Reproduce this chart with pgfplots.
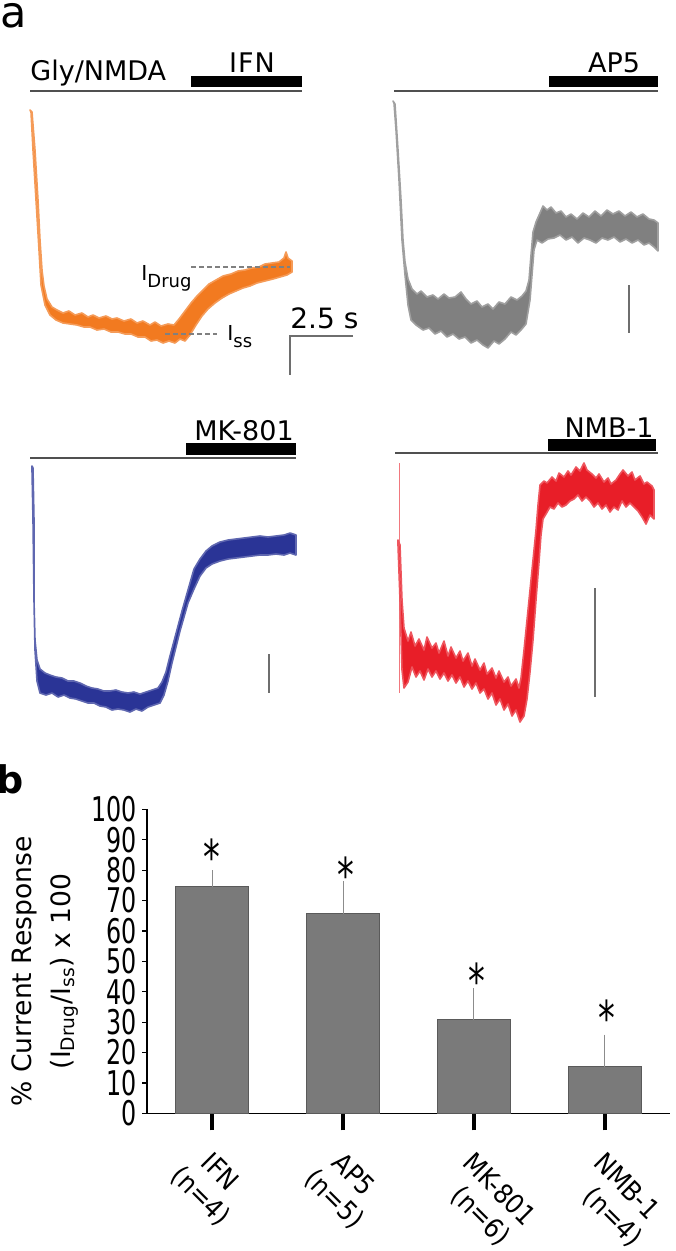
\documentclass[border=0pt]{standalone}
\usepackage{pgfplots}
\pgfplotsset{compat=1.18}
\usepackage{fontspec}
\setmainfont{DejaVu Sans}
\newfontfamily\condfont{DejaVu Sans}[FakeStretch=0.70]
\newfontfamily\labfont{DejaVu Sans}[FakeStretch=0.90]

\definecolor{tOrange}{RGB}{242,122,32}
\definecolor{tGray}{RGB}{128,128,128}
\definecolor{tBlue}{RGB}{42,52,150}
\definecolor{tRed}{RGB}{232,30,40}
\definecolor{barFill}{RGB}{122,122,122}
\definecolor{barEdge}{RGB}{90,90,90}
\definecolor{errGray}{RGB}{140,140,140}
\definecolor{stimLine}{RGB}{80,80,80}
\definecolor{scaleGray}{RGB}{110,110,110}

\newcommand{\txt}{\fontsize{13.5}{16}\selectfont}
\pgfplotsset{trace/.style={fill=#1, draw=#1!75, line width=0.8pt, line join=round}}
\tikzset{catlab/.style={rotate=-45, inner sep=0pt, font=\labfont\fontsize{13.5}{16}\selectfont}}

\begin{document}
\begin{tikzpicture}
\path[use as bounding box] (0,0) rectangle (337.5pt,-625.5pt);

% ---------- panel a: traces, in pixel units ----------
\begin{axis}[at={(0pt,0pt)}, anchor=north west, scale only axis,
  width=337.5pt, height=380pt, xmin=0, xmax=675, ymin=0, ymax=760,
  y dir=reverse, hide axis, clip=false, no markers]

\node[anchor=north west, inner sep=0pt, font=\fontsize{21.5}{22}\selectfont] at (axis cs:0.5,3) {a};

% stimulus lines and drug bars
\addplot[stimLine, line width=0.6pt] coordinates {(30,91)(302,91)};
\addplot[black, line width=5.5pt] coordinates {(191,81.5)(302,81.5)};
\addplot[stimLine, line width=0.6pt] coordinates {(394,91)(658,91)};
\addplot[black, line width=5.5pt] coordinates {(549,81.5)(658,81.5)};
\addplot[stimLine, line width=0.6pt] coordinates {(30,458)(296,458)};
\addplot[black, line width=6pt] coordinates {(186,449)(296,449)};
\addplot[stimLine, line width=0.6pt] coordinates {(395,453)(658,453)};
\addplot[black, line width=6pt] coordinates {(548,445)(656,445)};

\node[anchor=base west, inner sep=0pt, font=\txt] at (axis cs:30,80) {Gly/NMDA};
\node[anchor=base, inner sep=0pt, font=\txt] at (axis cs:252,72) {I\kern0.5pt F\kern0.5pt N};
\node[anchor=base, inner sep=0pt, font=\txt] at (axis cs:614,72) {AP5};
\node[anchor=base, inner sep=0pt, font=\txt] at (axis cs:244,440) {MK-801};
\node[anchor=base, inner sep=0pt, font=\txt] at (axis cs:609,437) {NMB-1};

% IFN trace
\addplot[trace=tOrange] coordinates {
(30,110)(32,112)(35,150)(38,200)(40,240)(42,270)(44,286)(47,299)(52,307)(57,310)
(63,313)(69,311)(75,315)(82,313)(88,317)(93,315)(99,318)(106,316)(112,319)(117,318)
(124,321)(131,319)(137,323)(143,321)(150,325)(155,322)(161,326)(168,324)(174,325)(179,319)
(185,311)(191,303)(197,296)(203,290)(209,284)(216,280)(223,276)(231,274)(238,271)(245,270)
(252,268)(259,267)(265,264)(272,263)(279,262)(284,258)(286,252)(288,258)(292,261)
(292,272)(287,275)(280,277)(273,279)(265,281)(257,283)(250,286)(243,288)(236,291)(229,294)
(222,298)(215,303)(208,309)(202,316)(196,325)(190,335)(185,341)(180,339)(175,343)(169,341)
(163,343)(157,340)(151,341)(145,337)(138,337)(131,334)(125,334)(118,332)(111,332)(104,329)
(97,330)(90,327)(84,327)(77,325)(70,324)(63,323)(56,320)(50,315)(45,305)(41,285)
(39,250)(36,200)(33,150)(31,112)} -- cycle;

\addplot[gray, line width=0.7pt, dash pattern=on 2.5pt off 1.5pt] coordinates {(191,267)(290,267)};
\addplot[gray, line width=0.7pt, dash pattern=on 2.5pt off 1.5pt] coordinates {(165,334)(217,334)};
\node[anchor=base west, inner sep=0pt, font=\fontsize{10.3}{12}\selectfont] at (axis cs:141,280)
  {I\raisebox{-0.38em}{\fontsize{9}{10}\selectfont Drug}};
\node[anchor=base west, inner sep=0pt, font=\fontsize{10.3}{12}\selectfont] at (axis cs:227,340)
  {I\raisebox{-0.38em}{\fontsize{9}{10}\selectfont ss}};
\node[anchor=base west, inner sep=0pt, font=\fontsize{14}{16}\selectfont] at (axis cs:290,328) {2.5 s};
\addplot[scaleGray, line width=0.6pt] coordinates {(353,336)(290,336)(290,375)};

% AP5 trace
\addplot[trace=tGray] coordinates {
(393,101)(395,104)(398,150)(401,200)(403,240)(405,262)(408,279)(412,289)(417,294)(421,291)
(427,297)(433,295)(438,299)(444,294)(449,298)(455,297)(461,292)(466,299)(471,304)(477,301)
(482,307)(488,304)(493,309)(499,302)(505,304)(511,297)(517,300)(522,296)(526,291)(529,280)
(531,255)(533,232)(536,222)(540,213)(543,206)(547,210)(551,207)(556,213)(561,211)(566,217)
(571,214)(577,219)(583,213)(589,217)(595,211)(601,216)(607,210)(613,214)(619,211)(625,216)
(631,212)(637,217)(643,214)(649,219)(654,220)(658,223)
(658,251)(654,247)(649,243)(644,245)(638,240)(632,243)(626,239)(620,242)(614,237)(608,240)
(602,238)(596,243)(590,240)(584,238)(578,243)(572,237)(566,240)(560,235)(554,238)(548,239)
(542,243)(537,240)(534,250)(532,275)(530,300)(526,324)(521,330)(516,335)(511,332)(505,339)
(499,344)(494,341)(488,348)(483,345)(477,340)(471,343)(465,337)(459,339)(453,334)(447,337)
(441,331)(435,334)(429,328)(423,330)(416,325)(411,320)(408,305)(405,275)(402,240)(399,180)
(396,130)(394,103)} -- cycle;
\addplot[scaleGray, line width=0.6pt] coordinates {(629,285)(629,333)};

% MK-801 trace
\addplot[trace=tBlue] coordinates {
(32,466)(33,468)(34,520)(34,600)(35,640)(37,660)(40,669)(45,673)(50,675)(56,677)
(62,678)(68,681)(74,681)(80,683)(86,686)(92,688)(98,689)(104,691)(110,691)(116,690)
(122,692)(128,693)(134,692)(140,694)(146,692)(152,690)(158,688)(162,682)(166,672)(170,656)
(174,641)(178,626)(182,611)(186,597)(190,583)(194,569)(200,559)(206,551)(212,546)(220,542)
(228,540)(236,539)(244,538)(252,537)(260,536)(268,537)(276,536)(284,535)(290,533)(296,535)
(296,555)(290,553)(284,555)(276,554)(268,555)(260,555)(252,556)(244,557)(236,558)(228,559)
(220,561)(212,564)(206,568)(200,576)(194,589)(188,603)(184,617)(180,631)(176,647)(172,663)
(168,681)(164,695)(160,703)(154,705)(148,707)(142,711)(136,709)(130,712)(124,710)(118,709)
(112,710)(106,707)(100,706)(94,703)(88,703)(82,701)(76,699)(70,698)(64,695)(58,697)
(52,693)(46,695)(40,693)(37,681)(35,650)(34,600)(33,520)(32,470)} -- cycle;
\addplot[scaleGray, line width=0.6pt] coordinates {(269,654)(269,693)};

% NMB-1 trace
\addplot[tRed!60, line width=0.4pt] coordinates {(399,463)(399,693)};
\addplot[trace=tRed] coordinates {
(398,540)(400,545)(402,600)(404,628)(408,641)(411,632)(415,646)(419,639)(424,650)(427,637)
(432,648)(436,643)(439,653)(444,641)(448,656)(451,647)(456,658)(460,651)(463,661)(468,653)
(472,666)(475,659)(480,670)(484,663)(487,674)(492,668)(496,678)(499,671)(504,682)(508,677)
(511,686)(516,679)(519,688)(521,678)(524,650)(527,620)(530,590)(533,560)(536,530)(538,505)
(540,485)(544,481)(547,483)(552,477)(556,481)(559,473)(564,477)(568,471)(571,475)(576,467)
(580,471)(584,463)(587,470)(592,474)(596,478)(599,474)(604,482)(608,478)(611,484)(616,480)
(620,474)(623,470)(628,476)(632,472)(635,480)(640,476)(644,484)(647,482)(652,486)(654,490)
(654,519)(650,515)(646,524)(642,517)(638,511)(634,507)(630,503)(626,507)(622,501)(618,510)
(614,507)(610,512)(606,505)(602,509)(598,503)(594,507)(590,501)(586,497)(582,501)(578,495)
(574,499)(570,501)(566,505)(562,507)(558,503)(554,509)(550,507)(546,514)(543,519)(541,535)
(539,562)(536,600)(533,640)(530,672)(527,699)(524,716)(520,722)(516,710)(512,716)(508,704)
(504,710)(500,699)(496,705)(492,693)(488,699)(484,689)(480,693)(476,683)(472,689)(468,681)
(464,687)(460,677)(456,683)(452,675)(448,681)(444,673)(440,679)(436,671)(432,677)(428,669)
(424,680)(420,671)(416,677)(412,667)(408,682)(404,688)(402,670)(400,600)(398,545)} -- cycle;
\addplot[scaleGray, line width=0.6pt] coordinates {(595,588)(595,697)};
\end{axis}

% ---------- panel b: bar chart ----------
\node[anchor=north west, inner sep=0pt, font=\bfseries\fontsize{19}{21}\selectfont] at (-2pt,-382pt) {b};

\begin{axis}[at={(73.5pt,-556.65pt)}, anchor=south west, scale only axis,
  width=261.5pt, height=152pt,
  xmin=-0.5, xmax=3.5, ymin=0, ymax=100,
  axis x line*=bottom, axis y line*=left,
  axis line style={black, line width=0.8pt},
  xtick={0,1,2,3}, xticklabels={},
  ytick={0,10,...,100},
  tick align=outside,
  xtick style={black, line width=2pt, /pgfplots/major tick length=8.5pt},
  ytick style={black, line width=0.6pt, /pgfplots/major tick length=2.5pt},
  /pgf/number format/assume math mode=true,
  yticklabel style={font=\condfont\fontsize{17}{17}\selectfont, inner sep=0.5pt},
  ylabel={\% Current Response\\(I\textsubscript{Drug}/I\textsubscript{ss}) x 100},
  every axis y label/.style={at={(rel axis cs:-0.195,0.467)}, rotate=90,
    anchor=center, align=center, font=\fontsize{13.3}{19.5}\selectfont},
  clip=false]

\addplot[ybar, bar width=36.5pt, fill=barFill, draw=barEdge, line width=0.5pt,
  error bars/.cd, y dir=plus, y explicit,
  error bar style={color=errGray, line width=0.6pt},
  error mark options={color=errGray, mark size=1.8pt, line width=0.6pt}]
  coordinates {(0,74.5) +- (0,4.2) (1,65.6) +- (0,9.5) (2,30.7) +- (0,9.3) (3,15.3) +- (0,9.4)};

\node[anchor=base, inner sep=0pt, font=\condfont\fontsize{24}{24}\selectfont] at (axis cs:0,78.4) {*};
\node[anchor=base, inner sep=0pt, font=\condfont\fontsize{24}{24}\selectfont] at (axis cs:1.02,72.8) {*};
\node[anchor=base, inner sep=0pt, font=\condfont\fontsize{24}{24}\selectfont] at (axis cs:2.02,37.9) {*};
\node[anchor=base, inner sep=0pt, font=\condfont\fontsize{24}{24}\selectfont] at (axis cs:3.02,25.7) {*};

% category labels under the ticks (two rotated lines each)
\node[catlab, anchor=base west] at ([xshift=-6.35pt, yshift=-25.45pt]axis cs:0,0) {IFN};
\node[catlab, anchor=base west] at ([xshift=-6.35pt, yshift=-25.45pt]axis cs:1,0) {AP5};
\node[catlab, anchor=base west] at ([xshift=-6.35pt, yshift=-25.45pt]axis cs:2,0) {MK-801};
\node[catlab, anchor=base west] at ([xshift=-6.35pt, yshift=-25.45pt]axis cs:3,0) {NMB-1};
\node[catlab, anchor=base] at ([xshift=-9pt, yshift=-44.7pt]axis cs:0,0) {(n=4)};
\node[catlab, anchor=base] at ([xshift=-7.6pt, yshift=-46.15pt]axis cs:1,0) {(n=5)};
\node[catlab, anchor=base] at ([xshift=0.35pt, yshift=-54.45pt]axis cs:2,0) {(n=6)};
\node[catlab, anchor=base] at ([xshift=1.05pt, yshift=-55.15pt]axis cs:3,0) {(n=4)};
\end{axis}
\end{tikzpicture}
\end{document}
